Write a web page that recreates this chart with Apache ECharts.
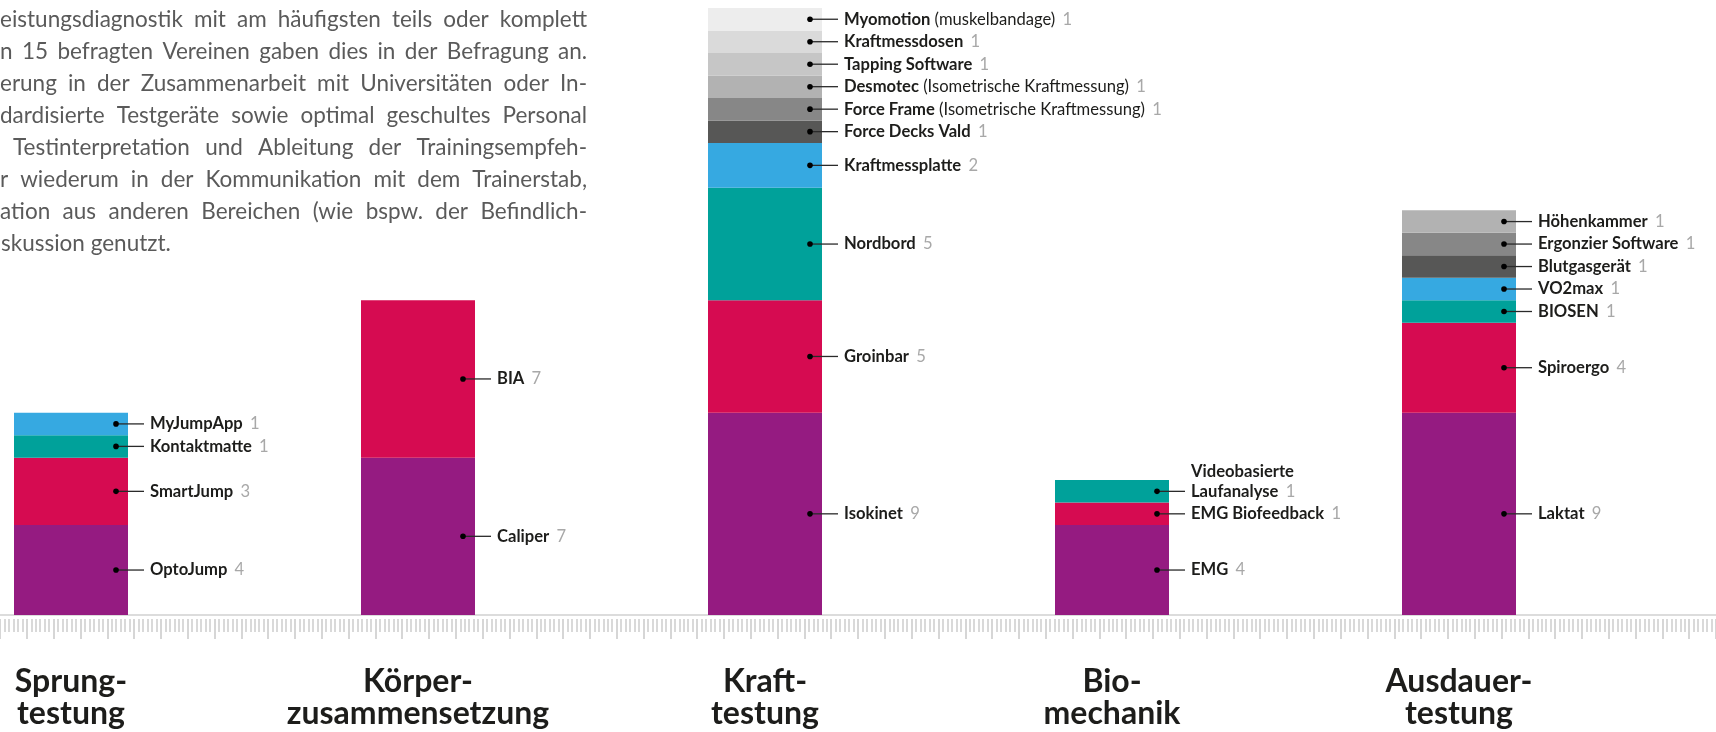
<!DOCTYPE html>
<html>
<head>
<meta charset="utf-8">
<script src="https://cdn.jsdelivr.net/npm/echarts/dist/echarts.min.js"></script>
<style>
html,body{margin:0;padding:0;background:#fff;}
#chart{width:1716px;height:732px;}
</style>
</head>
<body>
<div id="chart"></div>
<script>
// ---------- DATA ----------
const categories = ['Sprung-\ntestung', 'Körper-\nzusammensetzung', 'Kraft-\ntestung', 'Bio-\nmechanik', 'Ausdauer-\ntestung'];

const sprungNames = ['OptoJump', 'SmartJump', 'Kontaktmatte', 'MyJumpApp'];
const sprungValues = [4, 3, 1, 1];

const koerperNames = ['Caliper', 'BIA'];
const koerperValues = [7, 7];

const kraftNames = ['Isokinet', 'Groinbar', 'Nordbord', 'Kraftmessplatte', 'Force Decks Vald', 'Force Frame', 'Desmotec', 'Tapping Software', 'Kraftmessdosen', 'Myomotion'];
const kraftNotes = ['', '', '', '', '', '(Isometrische Kraftmessung)', '(Isometrische Kraftmessung)', '', '', '(muskelbandage)'];
const kraftValues = [9, 5, 5, 2, 1, 1, 1, 1, 1, 1];

const bioNames = ['EMG', 'EMG Biofeedback', 'Videobasierte\nLaufanalyse'];
const bioValues = [4, 1, 1];

const ausdauerNames = ['Laktat', 'Spiroergo', 'BIOSEN', 'VO2max', 'Blutgasgerät', 'Ergonzier Software', 'Höhenkammer'];
const ausdauerValues = [9, 4, 1, 1, 1, 1, 1];

const paragraphLines = [
  'eistungsdiagnostik mit am häufigsten teils oder komplett',
  'n 15 befragten Vereinen gaben dies in der Befragung an.',
  'erung in der Zusammenarbeit mit Universitäten oder In-',
  'dardisierte Testgeräte sowie optimal geschultes Personal',
  ' Testinterpretation und Ableitung der Trainingsempfeh-',
  'r wiederum in der Kommunikation mit dem Trainerstab,',
  'ation aus anderen Bereichen (wie bspw. der Befindlich-',
  'skussion genutzt.'
];

// ---------- STYLE ----------
const levelColors = ['#951B81', '#D60B51', '#00A19A', '#36A9E1', '#575756', '#878787', '#B2B2B2', '#C6C6C6', '#DADADA', '#EDEDED'];
const BAR_W = 114;
const FONT = 'Lato';
const LBL_SIZE = 16.6;

const groups = [
  { names: sprungNames, values: sprungValues, notes: [] },
  { names: koerperNames, values: koerperValues, notes: [] },
  { names: kraftNames, values: kraftValues, notes: kraftNotes },
  { names: bioNames, values: bioValues, notes: [] },
  { names: ausdauerNames, values: ausdauerValues, notes: [] }
];
const maxLevels = Math.max.apply(null, groups.map(g => g.values.length));

const barSeries = [];
for (let L = 0; L < maxLevels; L++) {
  barSeries.push({
    type: 'bar',
    stack: 'total',
    xAxisIndex: 0, yAxisIndex: 0,
    barWidth: BAR_W,
    clip: false,
    itemStyle: { color: levelColors[L] },
    emphasis: { disabled: true },
    silent: true,
    data: groups.map(g => (g.values[L] !== undefined ? g.values[L] : '-'))
  });
}

// annotation data
const annData = [], annNames = [], annNotes = [];
groups.forEach((g, gi) => {
  let cum = 0;
  g.values.forEach((v, L) => {
    annData.push([gi, cum, v]);
    annNames.push(g.names[L]);
    annNotes.push(g.notes[L] || '');
    cum += v;
  });
});

const rich = {
  b: { fontFamily: FONT, fontWeight: 'bold', fontSize: LBL_SIZE, fill: '#1d1d1b', color: '#1d1d1b', lineHeight: 20 },
  r: { fontFamily: FONT, fontWeight: 'normal', fontSize: LBL_SIZE, fill: '#1d1d1b', color: '#1d1d1b', lineHeight: 20 },
  n: { fontFamily: FONT, fontWeight: 'normal', fontSize: LBL_SIZE, fill: '#a8a8a8', color: '#a8a8a8', lineHeight: 20, padding: [0, 0, 0, 3] }
};

const annSeries = {
  type: 'custom',
  xAxisIndex: 0, yAxisIndex: 0,
  clip: false,
  silent: true,
  z: 10,
  data: annData,
  renderItem: function (params, api) {
    const i = params.dataIndex;
    const cat = api.value(0), base = api.value(1), v = api.value(2);
    const p = api.coord([cat, base + v / 2]);
    const right = p[0] + BAR_W / 2;
    const y = p[1];
    const lines = annNames[i].split('\n');
    let text = '';
    for (let k = 0; k < lines.length - 1; k++) text += '{b|' + lines[k] + '}\n';
    text += '{b|' + lines[lines.length - 1] + '}';
    if (annNotes[i]) text += '{r| ' + annNotes[i] + '}';
    text += '{n| ' + v + '}';
    const multi = lines.length > 1;
    return {
      type: 'group',
      children: [
        { type: 'line', shape: { x1: right - 12, y1: y, x2: right + 16, y2: y }, style: { stroke: '#2a2a2a', lineWidth: 1.3 } },
        { type: 'circle', shape: { cx: right - 12, cy: y, r: 2.8 }, style: { fill: '#000' } },
        { type: 'text', x: right + 22, y: multi ? y + 10 : y,
          style: { text: text, rich: rich, align: 'left', verticalAlign: multi ? 'bottom' : 'middle', fontFamily: FONT, fontSize: LBL_SIZE } }
      ]
    };
  }
};

// ---------- paragraph (justified) ----------
const cvs = document.createElement('canvas');
const ctx = cvs.getContext('2d');
const P_FONT_SIZE = 22.5;
ctx.font = P_FONT_SIZE + 'px ' + FONT;
const P_RIGHT = 587, P_TOP = 20, P_LH = 32;
const graphics = [];
paragraphLines.forEach((line, k) => {
  const y = P_TOP + k * P_LH;
  const startsWithSpace = line[0] === ' ';
  const left = startsWithSpace ? 13 : 0;
  const words = line.trim().split(' ');
  const isLast = k === paragraphLines.length - 1;
  if (isLast) {
    graphics.push({ type: 'text', x: 1, y: y, silent: true,
      style: { text: line.trim(), fill: '#5a5a5a', font: P_FONT_SIZE + 'px ' + FONT, textAlign: 'left', textVerticalAlign: 'middle', verticalAlign: 'middle' } });
    return;
  }
  const widths = words.map(w => ctx.measureText(w).width);
  const total = widths.reduce((a, b) => a + b, 0);
  const gap = (P_RIGHT - left - total) / (words.length - 1);
  let x = left;
  words.forEach((w, wi) => {
    graphics.push({ type: 'text', x: x, y: y, silent: true,
      style: { text: w, fill: '#5a5a5a', font: P_FONT_SIZE + 'px ' + FONT, textAlign: 'left', textVerticalAlign: 'middle', verticalAlign: 'middle' } });
    x += widths[wi] + gap;
  });
});

// ---------- chart ----------
const chart = echarts.init(document.getElementById('chart'), null, { renderer: 'canvas' });
chart.setOption({
  animation: false,
  backgroundColor: '#ffffff',
  grid: [
    { left: 71, right: 257, top: 8, bottom: 117 },
    { left: 0, right: -12, top: 8, bottom: 117 }
  ],
  xAxis: [
    {
      type: 'category', gridIndex: 0, data: categories, boundaryGap: false,
      axisLine: { show: false }, axisTick: { show: false },
      axisLabel: { interval: 0, margin: 51, fontFamily: FONT, fontWeight: 'bold', fontSize: 32, lineHeight: 32, color: '#1d1d1b' }
    },
    {
      type: 'value', gridIndex: 1, min: 0, max: 1728,
      axisLine: { show: true, lineStyle: { color: '#dcdcdc', width: 2 } },
      axisTick: { show: false }, axisLabel: { show: false }, splitLine: { show: false }
    },
    {
      type: 'value', gridIndex: 1, min: 0, max: 1728, interval: 27, offset: 4, position: 'bottom',
      axisLine: { show: false },
      axisTick: { show: true, length: 20, lineStyle: { color: '#d6d6d6', width: 2 } },
      minorTick: { show: true, splitNumber: 6, length: 13, lineStyle: { color: '#d9d9d9', width: 2 } },
      axisLabel: { show: false }, splitLine: { show: false }
    }
  ],
  yAxis: [
    { type: 'value', gridIndex: 0, min: 0, max: 27, show: false },
    { type: 'value', gridIndex: 1, min: 0, max: 1, show: false }
  ],
  graphic: graphics,
  series: barSeries.concat([annSeries])
});
</script>
</body>
</html>
